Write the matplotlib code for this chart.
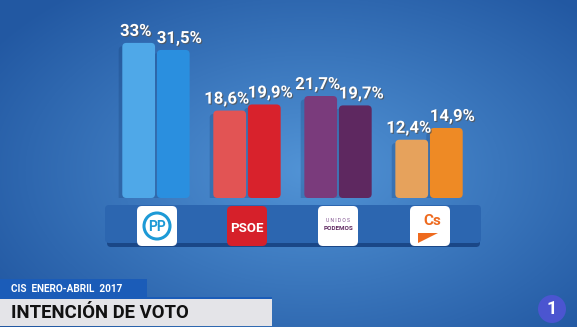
import numpy as np
import matplotlib.pyplot as plt
import matplotlib.patheffects as pe
from matplotlib.patches import FancyBboxPatch, Circle, Polygon, Rectangle

# ---- data ----
parties = ["PP", "PSOE", "Unidos Podemos", "Cs"]
previous = [33.0, 18.6, 21.7, 12.4]
current = [31.5, 19.9, 19.7, 14.9]
prev_labels = ["33%", "18,6%", "21,7%", "12,4%"]
curr_labels = ["31,5%", "19,9%", "19,7%", "14,9%"]
prev_colors = ["#4fa8e8", "#e25454", "#7a3b7c", "#e6a25c"]
curr_colors = ["#2a8fdf", "#d8222c", "#5e2860", "#ee8a25"]
subtitle = "CIS  ENERO-ABRIL  2017"
title = "INTENCIÓN DE VOTO"

W, H = 577, 327
fig = plt.figure(figsize=(W / 100, H / 100), dpi=100)

# ---- background (pixel coordinates) ----
bg = fig.add_axes([0, 0, 1, 1], zorder=0)
bg.set_xlim(0, W)
bg.set_ylim(H, 0)
bg.axis("off")

yy, xx = np.mgrid[0:H, 0:W]
d = np.sqrt(((xx - 310) / 380.0) ** 2 + ((yy - 170) / 230.0) ** 2)
d = np.clip(d, 0, 1)[..., None]
inner = np.array([0x52, 0x94, 0xd6]) / 255
outer = np.array([0x22, 0x58, 0xa2]) / 255
img = inner * (1 - d) + outer * d
bg.imshow(img, extent=[0, W, H, 0], aspect="auto", zorder=0)

# platform under the bars
bg.add_patch(FancyBboxPatch((107, 210), 373, 37, boxstyle="round,pad=0,rounding_size=4",
                            fc="#1a4787", ec="none", zorder=1))
bg.add_patch(FancyBboxPatch((105, 205), 376, 38, boxstyle="round,pad=0,rounding_size=4",
                            fc="#2c66b0", ec="none", zorder=2))

# logos
font = ["Roboto", "DejaVu Sans"]
logo_x = [157, 247, 338, 430]
for i, cx in enumerate(logo_x):
    fc = "#d6202a" if i == 1 else "white"
    bg.add_patch(FancyBboxPatch((cx - 20, 206), 40, 40, boxstyle="round,pad=0,rounding_size=5",
                                fc=fc, ec="none", zorder=3))
# PP
bg.add_patch(Circle((157, 226), 13, fc="none", ec="#1d9ad6", lw=2.2, zorder=4))
bg.text(157, 227, "PP", color="#1d9ad6", fontsize=10, fontweight="bold",
        ha="center", va="center", family=font, zorder=5)
# PSOE
bg.text(247, 228, "PSOE", color="white", fontsize=9.5, fontweight="bold",
        ha="center", va="center", family=font, zorder=5)
# Unidos Podemos
bg.text(338, 221, "U N I D O S", color="#7a4a8a", fontsize=3.6,
        ha="center", va="center", family=font, zorder=5)
bg.text(338, 228, "PODEMOS", color="#5e2860", fontsize=4.6, fontweight="bold",
        ha="center", va="center", family=font, zorder=5)
# Ciudadanos
bg.text(432, 221, "Cs", color="#ee6a1e", fontsize=11, fontweight="bold",
        ha="center", va="center", family=font, zorder=5)
bg.add_patch(Polygon([[418, 233], [438, 233], [418, 243]], closed=True,
                     fc="#ee6a1e", ec="none", zorder=5))

# bottom captions
narrow = ["Liberation Sans Narrow", "Roboto", "DejaVu Sans"]
bg.add_patch(Rectangle((0, 279), 147, 18, fc="#1b5cb8", ec="none", zorder=3))
bg.text(11, 288.5, subtitle, color="white", fontsize=7.2, fontweight="bold",
        ha="left", va="center", family=font, zorder=4)
bg.add_patch(Rectangle((0, 297), 272, 2, fc="#1b5cb8", ec="none", zorder=3))
bg.add_patch(Rectangle((0, 299), 272, 27, fc="#e4e4e8", ec="none", zorder=3))
bg.text(11, 312.5, title, color="#111111", fontsize=13.3, fontweight="bold",
        ha="left", va="center", family=narrow, zorder=4)

# channel mark
bg.add_patch(Circle((552, 309), 14, fc="#4b55d0", ec="none", zorder=3))
bg.text(552, 309, "1", color="white", fontsize=13, fontweight="bold",
        ha="center", va="center", family=font, zorder=4)

# ---- bars ----
px_per_pct = 4.7
base_px, top_px = 198, 20
ax = fig.add_axes([105 / W, (H - base_px) / H, 375 / W, (base_px - top_px) / H], zorder=2)
ax.set_xlim(-0.56, 3.56)
ax.set_ylim(0, (base_px - top_px) / px_per_pct)
ax.patch.set_alpha(0)
ax.axis("off")

x = np.arange(len(parties))
w = 0.36
off = 0.19
aspect = (375 / 4.12) / px_per_pct  # x-units per y-unit ratio in pixels


def round_bars(container, z):
    # swap each rectangle for a rounded box of the same geometry
    for r in container:
        bx, by = r.get_x(), r.get_y()
        bw, bh = r.get_width(), r.get_height()
        r.set_visible(False)
        ax.add_patch(FancyBboxPatch((bx, by), bw, bh,
                                    boxstyle="round,pad=0,rounding_size=0.045",
                                    mutation_aspect=aspect, fc=r.get_facecolor(),
                                    ec="none", alpha=r.get_alpha(), zorder=z))


# soft shadows
round_bars(ax.bar(x - off - 0.04, previous, w, bottom=-0.7, color="#123a70", alpha=0.25), 1)
round_bars(ax.bar(x + off - 0.04, current, w, bottom=-0.7, color="#123a70", alpha=0.25), 1)
round_bars(ax.bar(x - off, previous, w, color=prev_colors), 3)
round_bars(ax.bar(x + off, current, w, color=curr_colors), 2)

shadow = [pe.withSimplePatchShadow(offset=(0.8, -0.8), shadow_rgbFace="#555555", alpha=0.8)]
for i in range(len(parties)):
    ax.annotate(prev_labels[i], (x[i] - off, previous[i]), xytext=(-3, 4),
                textcoords="offset pixels", color="white", fontsize=12,
                fontweight="semibold", ha="center", va="bottom", family=font,
                path_effects=shadow, zorder=5)
    ax.annotate(curr_labels[i], (x[i] + off, current[i]), xytext=(6, 4),
                textcoords="offset pixels", color="white", fontsize=12,
                fontweight="semibold", ha="center", va="bottom", family=font,
                path_effects=shadow, zorder=5)

fig.savefig("out.png", dpi=100)
